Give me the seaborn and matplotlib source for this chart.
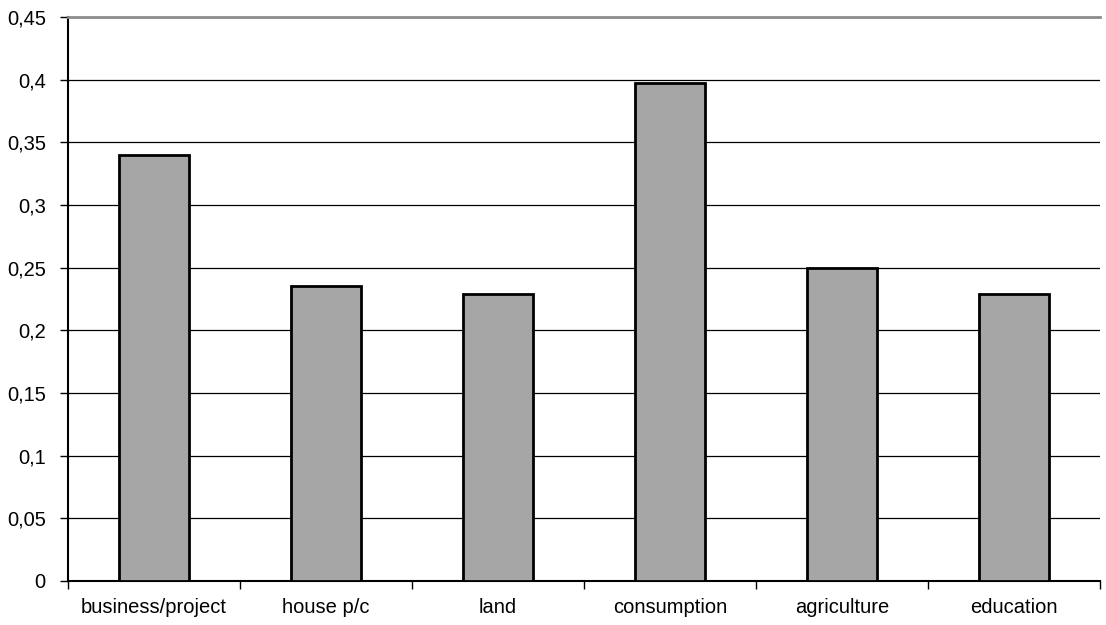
import matplotlib
matplotlib.use("Agg")
import matplotlib.pyplot as plt
import seaborn as sns
import pandas as pd
from matplotlib.ticker import FixedLocator, FuncFormatter

categories = ["business/project", "house p/c", "land", "consumption", "agriculture", "education"]
values = [0.340, 0.235, 0.229, 0.397, 0.250, 0.229]
y_ticks = [0, 0.05, 0.1, 0.15, 0.2, 0.25, 0.3, 0.35, 0.4, 0.45]

sns.set_theme(style="white")
plt.rcParams["font.family"] = ["Liberation Sans", "DejaVu Sans"]

df = pd.DataFrame({"category": categories, "value": values})

fig = plt.figure(figsize=(11.06, 6.25), dpi=100)
ax = fig.add_axes([68/1106, 44/625, 1032/1106, 564/625])

sns.barplot(data=df, x="category", y="value", color="#A6A6A6", saturation=1,
            edgecolor="black", linewidth=2.0, width=0.41, ax=ax, zorder=3)

ax.set_ylim(0, 0.45)
ax.set_xlim(-0.5, len(categories) - 0.5)
ax.set_yticks(y_ticks)
ax.yaxis.set_major_formatter(FuncFormatter(lambda v, p: f"{v:g}".replace(".", ",")))
ax.yaxis.grid(True, color="black", linewidth=0.9, zorder=0)
ax.set_axisbelow(True)

# x: boundary ticks (major, unlabeled) and centered labels (minor)
ax.xaxis.set_major_locator(FixedLocator([i - 0.5 for i in range(len(categories) + 1)]))
ax.xaxis.set_major_formatter(FuncFormatter(lambda v, p: ""))
ax.xaxis.set_minor_locator(FixedLocator(list(range(len(categories)))))
ax.set_xticklabels(categories, minor=True)
ax.tick_params(axis="x", which="major", bottom=True, length=6, width=1, color="black")
ax.tick_params(axis="x", which="minor", bottom=True, length=0, pad=12, labelsize=14.5, labelcolor="black")
ax.tick_params(axis="y", left=True, length=6, width=1, color="black", pad=10, labelsize=14.5, labelcolor="black")

ax.set_xlabel("")
ax.set_ylabel("")

for s in ["left", "bottom"]:
    ax.spines[s].set_visible(True)
    ax.spines[s].set_color("black")
    ax.spines[s].set_linewidth(1.5)
ax.spines["right"].set_visible(False)
ax.spines["top"].set_visible(True)
ax.spines["top"].set_color("#8C8C8C")
ax.spines["top"].set_linewidth(2.0)

fig.savefig("out.png", dpi=100)
